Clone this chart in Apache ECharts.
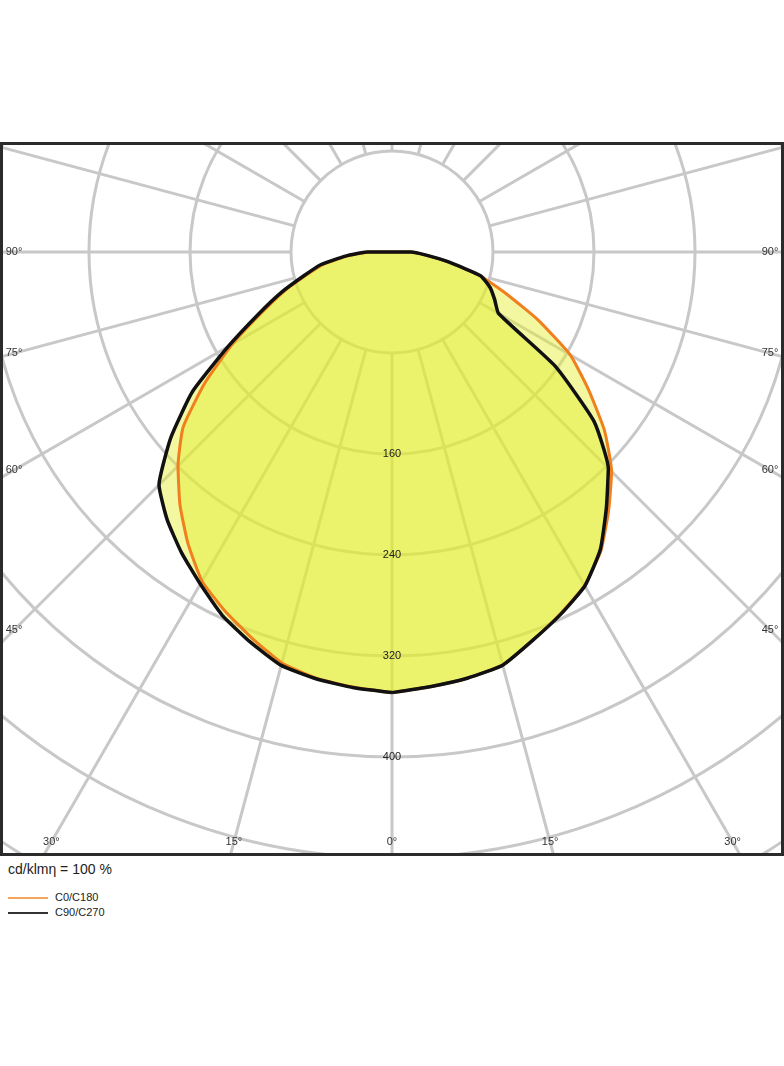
<!DOCTYPE html>
<html>
<head>
<meta charset="utf-8">
<script src="https://cdn.jsdelivr.net/npm/echarts@6/dist/echarts.min.js"></script>
<style>
    body { margin: 0; background: #fff; width: 784px; height: 1066px; position: relative; font-family: 'Liberation Sans', Arial, sans-serif; }
    #frame { position: absolute; left: 0; top: 142px; width: 784px; height: 714px; border: 3px solid #2b2b2b; box-sizing: border-box; }
    #plot { width: 778px; height: 708px; }
    #caption { position: absolute; left: 8px; top: 861px; font-size: 14px; color: #222; }
    .leg { position: absolute; left: 8px; font-size: 11px; color: #222; line-height: 12px; }
    .leg i { display: inline-block; width: 40px; height: 2px; vertical-align: middle; margin-right: 7px; }
</style>
</head>
<body>
<div id="frame"><div id="plot"></div></div>
<div id="caption">cd/klmη = 100 %</div>
<div class="leg" style="top:891px"><i style="background:#f4a45c"></i>C0/C180</div>
<div class="leg" style="top:906px"><i style="background:#333"></i>C90/C270</div>

<script>
// gamma angles (deg from nadir), same for both halves of each plane
var gammas = [0, 5, 10, 15, 20, 25, 30, 35, 40, 45, 50, 55, 60, 65, 70, 75, 80, 85, 90]

// C0/C180 (orange), cd/klm
var c0Left = [349, 346, 343, 337, 325.2, 313.5, 301, 281.8, 261.3, 239.7, 216, 181, 146, 114, 91, 70, 55, 35, 18]
var c0Right = [349, 345.6, 342.8, 338.8, 327, 316, 305, 288.6, 267, 246, 219.6, 190, 163, 128, 96, 72, 45, 26, 15]

// C90/C270 (black)
var c90Left = [349, 346.5, 343.4, 339, 328.7, 317.7, 303.7, 290.7, 277, 261, 228.7, 193, 150, 117, 93, 72, 57, 37, 20]
var c90Right = [349, 345.6, 342.8, 338.8, 327, 316.5, 305.5, 287.7, 264.2, 242.3, 209, 158, 97.5, 89.8, 82.8, 72.6, 45.5, 26.4, 15]

var ringStep = 80
var ringMax = 640
var ringLabels = [160, 240, 320, 400]
var angleLabels = [90, 75, 60, 45, 30, 15, 0]

// plot geometry (inside the frame)
var CX = 389, CY = 107
var pxPerCd = 1.2625
var edgeLeft = 11, edgeRight = 767, edgeBottom = 697

// left half: angle = gamma, right half: angle = 360 - gamma
function planeData(left, right) {
    var out = []
    gammas.forEach(function (g, i) { out.push([left[i], g]) })
    for (var i = gammas.length - 1; i >= 0; i--) out.push([right[i], 360 - gammas[i]])
    return out
}

function edgePoint(g, dir) {
    var rad = g * Math.PI / 180
    var s = Math.sin(rad), c = Math.cos(rad)
    if (s > 1e-6) {
        var t = (CX - edgeLeft) / s
        var y = CY + t * c
        if (y <= edgeBottom) return { x: dir < 0 ? edgeLeft : edgeRight, y: y }
    }
    var t2 = (edgeBottom - CY) / c
    return { x: CX + dir * t2 * s, y: edgeBottom }
}

var labelFont = '11px "Liberation Sans", Arial, sans-serif'
var labelEls = []
angleLabels.forEach(function (g) {
    var dirs = g === 0 ? [1] : [-1, 1]
    dirs.forEach(function (d) {
        var p = edgePoint(g, d)
        labelEls.push({
            type: 'text', x: p.x, y: p.y, z: 20,
            style: { text: g + '°', fill: '#333', font: labelFont, align: 'center', verticalAlign: 'middle' }
        })
    })
})
ringLabels.forEach(function (r) {
    labelEls.push({
        type: 'text', x: CX, y: CY + r * pxPerCd, z: 20,
        style: { text: String(r), fill: '#222', font: labelFont, align: 'center', verticalAlign: 'middle' }
    })
})

var c0Data = planeData(c0Left, c0Right)
var c90Data = planeData(c90Left, c90Right)
var outerPx = ringMax * pxPerCd
var curveSmooth = 0.15

var chart = echarts.init(document.getElementById('plot'))
chart.setOption({
    animation: false,
    polar: [
        { center: [CX, CY], radius: [ringStep * pxPerCd, outerPx] },
        { center: [CX, CY], radius: [0, outerPx] }
    ],
    angleAxis: [
        {
            polarIndex: 0, type: 'value', min: 0, max: 360, interval: 15, startAngle: 270, clockwise: true,
            axisLine: { show: false }, axisTick: { show: false }, axisLabel: { show: false },
            splitLine: { lineStyle: { color: '#c8c8c8', width: 3 } }
        },
        { polarIndex: 1, type: 'value', min: 0, max: 360, startAngle: 270, clockwise: true, show: false }
    ],
    radiusAxis: [
        {
            polarIndex: 0, type: 'value', min: ringStep, max: ringMax, interval: ringStep,
            axisLine: { show: false }, axisTick: { show: false }, axisLabel: { show: false },
            splitLine: { lineStyle: { color: '#c8c8c8', width: 3 } }
        },
        { polarIndex: 1, type: 'value', min: 0, max: ringMax, show: false }
    ],
    graphic: labelEls,
    series: [
        {
            name: 'C0/C180 fill', type: 'line', coordinateSystem: 'polar', polarIndex: 1,
            data: c0Data, symbol: 'none', silent: true, z: 2, smooth: curveSmooth,
            lineStyle: { width: 0, opacity: 0 },
            areaStyle: { color: '#e3ed2c', opacity: 0.45 }
        },
        {
            name: 'C90/C270 fill', type: 'line', coordinateSystem: 'polar', polarIndex: 1,
            data: c90Data, symbol: 'none', silent: true, z: 2, smooth: curveSmooth,
            lineStyle: { width: 0, opacity: 0 },
            areaStyle: { color: '#e3ed2c', opacity: 0.45 }
        },
        {
            name: 'C0/C180', type: 'line', coordinateSystem: 'polar', polarIndex: 1,
            data: c0Data, symbol: 'none', z: 3, smooth: curveSmooth,
            lineStyle: { color: '#f07f1e', width: 3 }
        },
        {
            name: 'C90/C270', type: 'line', coordinateSystem: 'polar', polarIndex: 1,
            data: c90Data, symbol: 'none', z: 4, smooth: curveSmooth,
            lineStyle: { color: '#111', width: 3.5 }
        }
    ]
})
</script>
</body>
</html>
